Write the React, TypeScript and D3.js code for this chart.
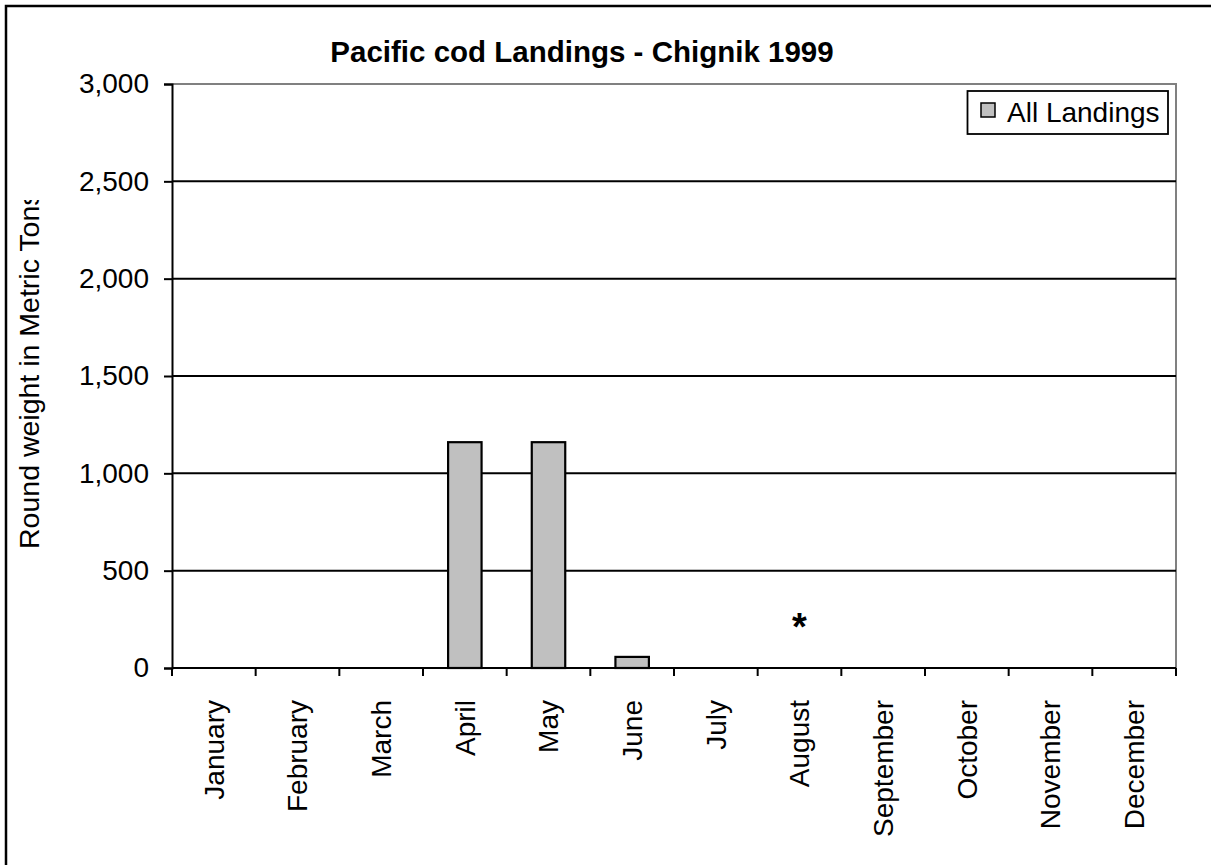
import React, { useRef, useEffect } from 'react';
import * as d3 from 'd3';

// chart data
const months = [
  'January', 'February', 'March', 'April', 'May', 'June',
  'July', 'August', 'September', 'October', 'November', 'December',
];
const allLandings = [0, 0, 0, 1160, 1160, 57, 0, 0, 0, 0, 0, 0];
const yTicks = [0, 500, 1000, 1500, 2000, 2500, 3000];
// confidential month marked with an asterisk
const notes = [{ month: 'August', value: 250, text: '*' }];

const FONT = '"Liberation Sans", Arial, Helvetica, sans-serif';
const LABEL_SIZE = '28px';

const App = () => {
  const svgRef = useRef<SVGSVGElement>(null);

  useEffect(() => {
    if (!svgRef.current) return;
    const svg = d3.select(svgRef.current);
    svg.selectAll('*').remove();

    const width = 1211;
    const height = 865;
    const plot = { left: 172, right: 1176, top: 84, bottom: 668 };

    svg.attr('width', width).attr('height', height).style('background', '#fff');

    // outer chart frame (runs off the right and bottom edge)
    svg.append('rect')
      .attr('x', 6).attr('y', 6)
      .attr('width', 1215).attr('height', 870)
      .attr('fill', '#fff').attr('stroke', '#000').attr('stroke-width', 2.5);

    const x = d3.scaleBand()
      .domain(months)
      .range([plot.left, plot.right])
      .paddingInner(0.6)
      .paddingOuter(0.3);

    const y = d3.scaleLinear()
      .domain([0, 3000])
      .range([plot.bottom, plot.top]);

    // plot area border (grey top and right)
    svg.append('path')
      .attr('d', `M${plot.left},${plot.top}H${plot.right}V${plot.bottom}`)
      .attr('fill', 'none').attr('stroke', '#808080').attr('stroke-width', 2);

    // gridlines
    svg.append('g')
      .selectAll('line')
      .data(yTicks.filter(d => d > 0 && d < 3000))
      .enter()
      .append('line')
      .attr('x1', plot.left).attr('x2', plot.right)
      .attr('y1', d => y(d)).attr('y2', d => y(d))
      .attr('stroke', '#000').attr('stroke-width', 2);

    // bars
    svg.append('g')
      .selectAll('rect')
      .data(allLandings.map((v, i) => ({ m: months[i], v })).filter(d => d.v > 0))
      .enter()
      .append('rect')
      .attr('x', d => x(d.m)!)
      .attr('y', d => y(d.v))
      .attr('width', x.bandwidth())
      .attr('height', d => y(0) - y(d.v))
      .attr('fill', '#c0c0c0')
      .attr('stroke', '#000')
      .attr('stroke-width', 2.2);

    // y axis
    const yAxis = d3.axisLeft(y)
      .tickValues(yTicks)
      .tickSize(8)
      .tickPadding(15)
      .tickFormat(d => d3.format(',')(d as number));
    const yG = svg.append('g')
      .attr('transform', `translate(${plot.left},0)`)
      .call(yAxis);
    yG.select('.domain').attr('stroke', '#000').attr('stroke-width', 2);
    yG.selectAll('.tick line').attr('stroke', '#000').attr('stroke-width', 2);
    yG.selectAll('.tick text')
      .attr('fill', '#000')
      .style('font-family', FONT)
      .style('font-size', LABEL_SIZE);

    // x axis: ticks sit between categories
    const step = x.step();
    const bounds = d3.range(months.length + 1).map(i => plot.left + i * step);
    const xG = svg.append('g');
    xG.append('line')
      .attr('x1', plot.left).attr('x2', plot.right)
      .attr('y1', plot.bottom).attr('y2', plot.bottom)
      .attr('stroke', '#000').attr('stroke-width', 2);
    xG.selectAll('line.tick')
      .data(bounds)
      .enter()
      .append('line')
      .attr('class', 'tick')
      .attr('x1', d => d).attr('x2', d => d)
      .attr('y1', plot.bottom).attr('y2', plot.bottom + 8)
      .attr('stroke', '#000').attr('stroke-width', 2);
    xG.selectAll('text')
      .data(months)
      .enter()
      .append('text')
      .attr('transform', d => `translate(${x(d)! + x.bandwidth() / 2},700) rotate(-90)`)
      .attr('text-anchor', 'end')
      .attr('dy', '0.35em')
      .style('font-family', FONT)
      .style('font-size', LABEL_SIZE)
      .attr('fill', '#000')
      .text(d => d);

    // asterisk note
    svg.append('g')
      .selectAll('text')
      .data(notes)
      .enter()
      .append('text')
      .attr('x', d => x(d.month)! + x.bandwidth() / 2)
      .attr('y', d => y(d.value))
      .attr('dy', '0.55em')
      .attr('text-anchor', 'middle')
      .style('font-family', FONT)
      .style('font-size', '38px')
      .style('font-weight', 'bold')
      .attr('fill', '#000')
      .text(d => d.text);

    // y axis title, clipped like the original
    svg.append('clipPath').attr('id', 'ylabel-clip')
      .append('rect').attr('x', 0).attr('y', 200).attr('width', 80).attr('height', 500);
    svg.append('g')
      .attr('clip-path', 'url(#ylabel-clip)')
      .append('text')
      .attr('transform', 'translate(39,549) rotate(-90)')
      .attr('text-anchor', 'start')
      .style('font-family', FONT)
      .style('font-size', '28.5px')
      .attr('fill', '#000')
      .text('Round weight in Metric Tons');

    // title
    svg.append('text')
      .attr('x', 582).attr('y', 62)
      .attr('text-anchor', 'middle')
      .style('font-family', FONT)
      .style('font-size', '29.5px')
      .style('font-weight', 'bold')
      .attr('fill', '#000')
      .text('Pacific cod Landings - Chignik 1999');

    // legend
    const lg = svg.append('g');
    lg.append('rect')
      .attr('x', 967.5).attr('y', 91)
      .attr('width', 200.5).attr('height', 43)
      .attr('fill', '#fff').attr('stroke', '#000').attr('stroke-width', 1.8);
    lg.append('rect')
      .attr('x', 981).attr('y', 103)
      .attr('width', 14).attr('height', 14)
      .attr('fill', '#c0c0c0').attr('stroke', '#000').attr('stroke-width', 1.5);
    lg.append('text')
      .attr('x', 1007).attr('y', 122)
      .style('font-family', FONT)
      .style('font-size', LABEL_SIZE)
      .attr('fill', '#000')
      .text('All Landings');
  }, []);

  return (
    <div style={{ position: 'absolute', left: 0, top: 0 }}>
      <svg ref={svgRef}></svg>
    </div>
  );
};

export default App;
